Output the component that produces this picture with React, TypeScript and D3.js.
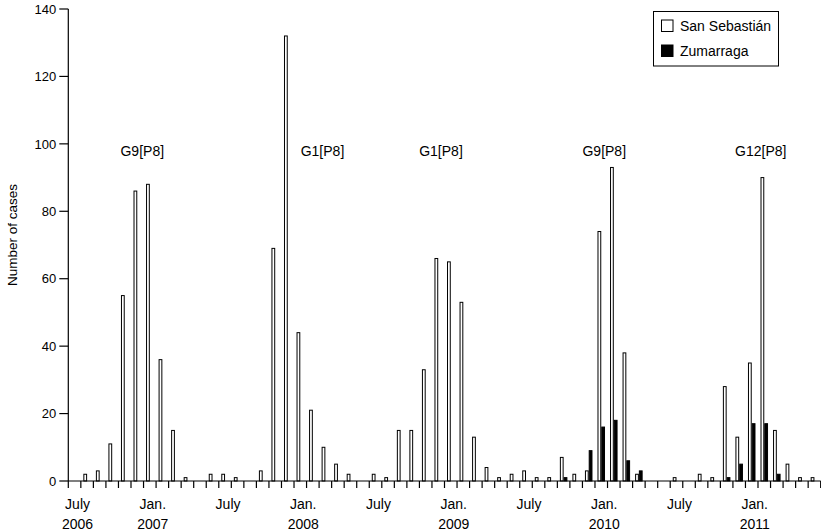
import React from "react";
import * as d3 from "d3";

const monthNames = ["Jul","Aug","Sep","Oct","Nov","Dec","Jan","Feb","Mar","Apr","May","Jun"];
const months: string[] = Array.from({ length: 60 }, (_, i) => {
  const y = 2006 + Math.floor((i + 6) / 12);
  return `${monthNames[i % 12]} ${y}`;
});

const sanSebastian = [
  0, 2, 3, 11, 55, 86, 88, 36, 15, 1, 0, 2,
  2, 1, 0, 3, 69, 132, 44, 21, 10, 5, 2, 0,
  2, 1, 15, 15, 33, 66, 65, 53, 13, 4, 1, 2,
  3, 1, 1, 7, 2, 3, 74, 93, 38, 2, 0, 0,
  1, 0, 2, 1, 28, 13, 35, 90, 15, 5, 1, 1,
];
const zumarraga = [
  0, 0, 0, 0, 0, 0, 0, 0, 0, 0, 0, 0,
  0, 0, 0, 0, 0, 0, 0, 0, 0, 0, 0, 0,
  0, 0, 0, 0, 0, 0, 0, 0, 0, 0, 0, 0,
  0, 0, 0, 1, 0, 9, 16, 18, 6, 3, 0, 0,
  0, 0, 0, 0, 1, 5, 17, 17, 2, 0, 0, 0,
];
const seriesNames = ["San Sebastián", "Zumarraga"];
const seriesFill = ["#ffffff", "#000000"];

const xTickLabels = [
  { month: "Jul 2006", line1: "July", line2: "2006" },
  { month: "Jan 2007", line1: "Jan.", line2: "2007" },
  { month: "Jul 2007", line1: "July", line2: "" },
  { month: "Jan 2008", line1: "Jan.", line2: "2008" },
  { month: "Jul 2008", line1: "July", line2: "" },
  { month: "Jan 2009", line1: "Jan.", line2: "2009" },
  { month: "Jul 2009", line1: "July", line2: "" },
  { month: "Jan 2010", line1: "Jan.", line2: "2010" },
  { month: "Jul 2010", line1: "July", line2: "" },
  { month: "Jan 2011", line1: "Jan.", line2: "2011" },
];
const yTicks = [0, 20, 40, 60, 80, 100, 120, 140];

const annotationText = ["G9[P8]", "G1[P8]", "G1[P8]", "G9[P8]", "G12[P8]"];
const annotationAt = [5.9, 20.27, 29.72, 42.74, 55.22];
const annotationValue = 96.5;

const FONT = "'Liberation Sans', Arial, Helvetica, sans-serif";

export default function App() {
  const W = 821, H = 532;
  const x0 = 68.3, x1 = 820.7, yBase = 481, yTop = 9;

  const x = d3.scaleBand<string>().domain(months).range([x0, x1]).paddingInner(0.4).paddingOuter(0.2);
  const xs = d3.scaleBand<string>().domain(seriesNames).range([0, x.bandwidth()]).padding(0);
  const xc = d3.scaleLinear().domain([0, months.length]).range([x0, x1]);
  const y = d3.scaleLinear().domain([0, 140]).range([yBase, yTop]);

  const series = [sanSebastian, zumarraga];
  const step = x.step();

  return (
    <svg width={W} height={H} style={{ position: "absolute", left: 0, top: 0, display: "block", background: "#fff" }} fontFamily={FONT}>
      {/* bars */}
      {months.map((m, i) => (
        <g key={m}>
          {series.map((vals, s) => {
            const v = vals[i];
            if (!v) return null;
            const bx = (x(m) as number) + (xs(seriesNames[s]) as number);
            return (
              <rect
                key={s}
                x={bx + 0.5}
                y={y(v)}
                width={xs.bandwidth() - 1}
                height={y(0) - y(v)}
                fill={seriesFill[s]}
                stroke="#000"
                strokeWidth={1}
              />
            );
          })}
        </g>
      ))}

      {/* axes */}
      <line x1={x0} x2={x0} y1={y(140)} y2={yBase} stroke="#000" strokeWidth={1.2} />
      <line x1={x0} x2={x1} y1={yBase} y2={yBase} stroke="#000" strokeWidth={1.2} />
      {yTicks.map((t) => (
        <g key={t}>
          <line x1={x0 - 9} x2={x0} y1={y(t)} y2={y(t)} stroke="#000" strokeWidth={1.2} />
          <text x={x0 - 12} y={y(t)} dy="0.36em" textAnchor="end" fontSize={13} fill="#000">{t}</text>
        </g>
      ))}
      {d3.range(months.length + 1).map((i) => (
        <line key={i} x1={xc(i)} x2={xc(i)} y1={yBase} y2={yBase + 7} stroke="#000" strokeWidth={1.2} />
      ))}
      {xTickLabels.map((t) => {
        const cx = (x(t.month) as number) + x.bandwidth() / 2 + 3;
        return (
          <g key={t.month}>
            <text x={cx} y={509} textAnchor="middle" fontSize={14} fill="#000">{t.line1}</text>
            {t.line2 && <text x={cx} y={528.5} textAnchor="middle" fontSize={14} fill="#000">{t.line2}</text>}
          </g>
        );
      })}
      <text transform={`translate(17,235) rotate(-90)`} textAnchor="middle" fontSize={13.5} fill="#000">Number of cases</text>

      {/* annotations */}
      {annotationText.map((a, i) => (
        <text key={i} x={xc(annotationAt[i])} y={y(annotationValue)} textAnchor="middle" fontSize={14} fill="#000">{a}</text>
      ))}

      {/* legend */}
      <rect x={653.5} y={11.5} width={125} height={54.5} fill="#fff" stroke="#000" strokeWidth={1} />
      {seriesNames.map((n, i) => (
        <g key={n}>
          <rect x={661.5} y={20 + i * 25} width={11.5} height={11.5} fill={seriesFill[i]} stroke="#000" strokeWidth={1} />
          <text x={680} y={31 + i * 25} fontSize={14} fill="#000">{n}</text>
        </g>
      ))}
    </svg>
  );
}
